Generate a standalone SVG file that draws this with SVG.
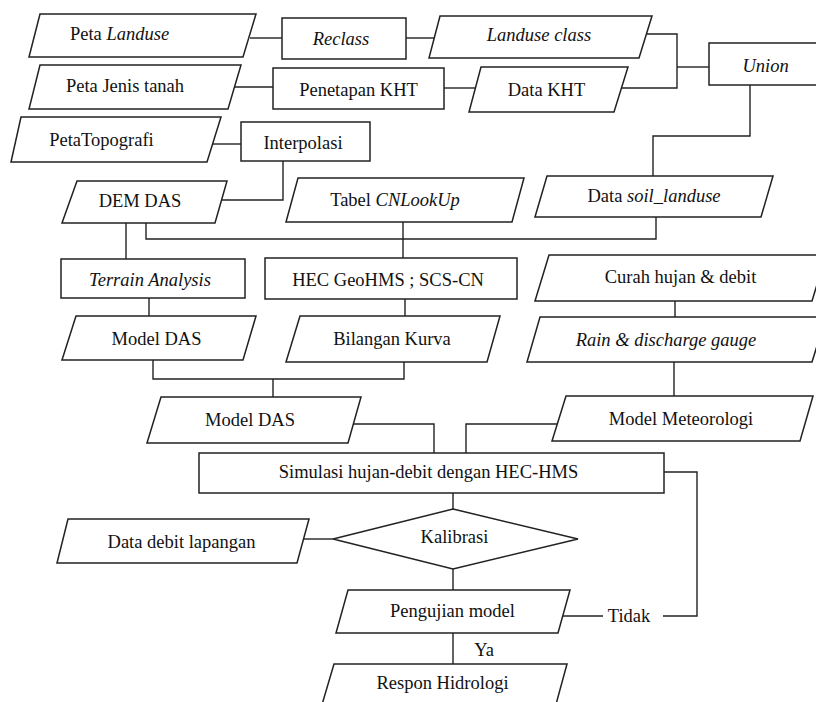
<svg xmlns="http://www.w3.org/2000/svg" width="816" height="702" viewBox="0 0 816 702" font-family="Liberation Serif, DejaVu Serif, serif">
<style>
.s{fill:#fff;stroke:#222;stroke-width:1.5}
.c{fill:none;stroke:#222;stroke-width:1.4}
text{font-size:18.5px;fill:#111;text-anchor:middle}
.i{font-style:italic}
</style>
<rect width="816" height="702" fill="#fff"/>
<g id="connectors">
<polyline class="c" points="250,38 282,38"/>
<polyline class="c" points="406,38 436,38"/>
<polyline class="c" points="646,34 677,34 677,88 622,88"/>
<polyline class="c" points="677,67 709,67"/>
<polyline class="c" points="235,87 273,87"/>
<polyline class="c" points="444,88 475,88"/>
<polyline class="c" points="213,144 241,144"/>
<polyline class="c" points="283,161 283,200 221,200"/>
<polyline class="c" points="126,223 126,259"/>
<polyline class="c" points="146,223 146,239 656,239 656,217"/>
<polyline class="c" points="403,222 403,258"/>
<polyline class="c" points="750,85 750,136 653,136 653,176"/>
<polyline class="c" points="149,298 149,316"/>
<polyline class="c" points="405,299 405,316"/>
<polyline class="c" points="153,360 153,379 404,379 404,362"/>
<polyline class="c" points="273,379 273,397"/>
<polyline class="c" points="675,301 675,317"/>
<polyline class="c" points="674,362 674,396"/>
<polyline class="c" points="353,424 434,424 434,453"/>
<polyline class="c" points="557,424 466,424 466,453"/>
<polyline class="c" points="664,472 697,472 697,616 663,616"/>
<polyline class="c" points="563,616 603,616"/>
<polyline class="c" points="453,493 453,509"/>
<polyline class="c" points="304,539 333,539"/>
<polyline class="c" points="453,569 453,590"/>
<polyline class="c" points="453,633 453,664"/>
</g>
<g id="peta-landuse"><polygon class="s" points="40,14 256,14 243,57 29,57"/><text x="119.5" y="40">Peta <tspan class="i">Landuse</tspan></text></g>
<g id="reclass"><rect class="s" x="282" y="18" width="124" height="41"/><text class="i" x="341" y="45">Reclass</text></g>
<g id="landuse-class"><polygon class="s" points="440,16 652,16 639,58 429,58"/><text class="i" x="539" y="41">Landuse class</text></g>
<g id="union"><rect class="s" x="709" y="43" width="115" height="42"/><text class="i" x="765.5" y="72">Union</text></g>
<g id="peta-jenis-tanah"><polygon class="s" points="40,65 241,65 228,109 29,109"/><text x="125" y="92">Peta Jenis tanah</text></g>
<g id="penetapan-kht"><rect class="s" x="273" y="68" width="171" height="41"/><text x="358.5" y="96">Penetapan KHT</text></g>
<g id="data-kht"><polygon class="s" points="481,67 628,67 614,112 469,112"/><text x="546.5" y="96">Data KHT</text></g>
<g id="peta-topografi"><polygon class="s" points="21,117 221,117 207,162 11,162"/><text x="101.5" y="146">PetaTopografi</text></g>
<g id="interpolasi"><rect class="s" x="241" y="122" width="129" height="39"/><text x="303" y="149">Interpolasi</text></g>
<g id="dem-das"><polygon class="s" points="77,181 227,181 215,223 62,223"/><text x="140" y="207">DEM DAS</text></g>
<g id="tabel-cnlookup"><polygon class="s" points="298,178 524,178 512,222 286,222"/><text x="395" y="206">Tabel <tspan class="i">CNLookUp</tspan></text></g>
<g id="data-soil-landuse"><polygon class="s" points="547,176 773,176 761,217 535,217"/><text x="654" y="202">Data <tspan class="i">soil_landuse</tspan></text></g>
<g id="terrain-analysis"><rect class="s" x="61" y="259" width="184" height="39"/><text class="i" x="150" y="286">Terrain Analysis</text></g>
<g id="hec-geohms"><rect class="s" x="265" y="258" width="252" height="41"/><text x="388" y="286">HEC GeoHMS ; SCS-CN</text></g>
<g id="curah-hujan"><polygon class="s" points="549,255 826,255 812,301 535,301"/><text x="680.5" y="283">Curah hujan &amp; debit</text></g>
<g id="model-das-1"><polygon class="s" points="76,316 256,316 243,360 62,360"/><text x="156.5" y="345">Model DAS</text></g>
<g id="bilangan-kurva"><polygon class="s" points="300,316 500,316 487,362 286,362"/><text x="392" y="345">Bilangan Kurva</text></g>
<g id="rain-gauge"><polygon class="s" points="540,317 826,317 812,362 527,362"/><text class="i" x="666" y="346">Rain &amp; discharge gauge</text></g>
<g id="model-das-2"><polygon class="s" points="161,397 361,397 348,443 147,443"/><text x="250" y="426">Model DAS</text></g>
<g id="model-meteorologi"><polygon class="s" points="566,396 813,396 800,441 552,441"/><text x="681" y="425">Model Meteorologi</text></g>
<g id="simulasi"><rect class="s" x="199" y="453" width="465" height="40"/><text x="428.5" y="478">Simulasi hujan-debit dengan HEC-HMS</text></g>
<g id="data-debit-lapangan"><polygon class="s" points="68,519 309,519 297,563 57,563"/><text x="181.5" y="548">Data debit lapangan</text></g>
<g id="kalibrasi"><polygon class="s" points="453,509 578,539 453,569 333,539"/><text x="454.5" y="543">Kalibrasi</text></g>
<g id="pengujian-model"><polygon class="s" points="348,590 570,590 558,633 336,633"/><text x="452.5" y="617">Pengujian model</text></g>
<g id="label-tidak"><text x="629" y="622">Tidak</text></g>
<g id="label-ya"><text x="484" y="656">Ya</text></g>
<g id="respon-hidrologi"><polygon class="s" points="334,664 567,664 555,708 321,708"/><text x="442.5" y="689">Respon Hidrologi</text></g>
</svg>
